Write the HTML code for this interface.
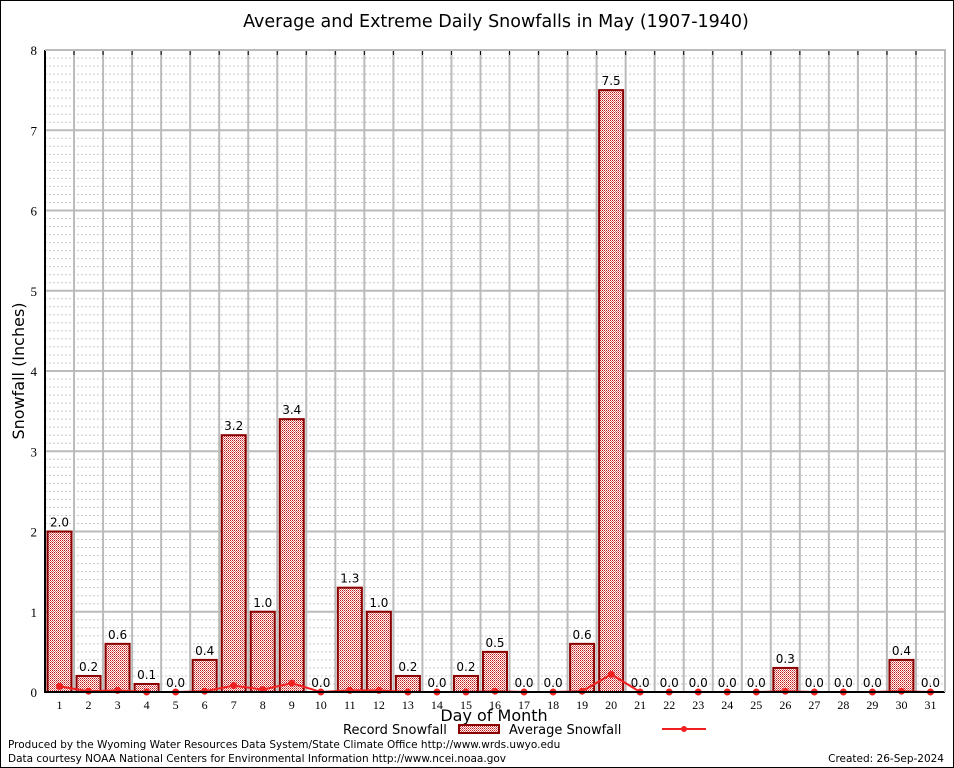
<!DOCTYPE html>
<html><head><meta charset="utf-8"><style>
body{margin:0;background:#fff}
svg{display:block;font-family:"DejaVu Sans","Liberation Sans",sans-serif}
</style></head><body>
<svg id="chart" width="954" height="768">
<defs><pattern id="hatch" width="2" height="2" patternUnits="userSpaceOnUse"><rect width="2" height="2" fill="#fff"/><rect width="1" height="1" fill="#c01818"/><rect x="1" y="1" width="1" height="1" fill="#e07070"/></pattern></defs>
<rect x="0.5" y="0.5" width="953" height="767" fill="#fff" stroke="#000"/>
<text x="496" y="27" font-size="17.5" text-anchor="middle">Average and Extreme Daily Snowfalls in May (1907-1940)</text>
<g id="grid"></g><g id="bars"></g><g id="line"></g><g id="axes"></g>
<text transform="translate(24,371) rotate(-90)" font-size="16" text-anchor="middle">Snowfall (Inches)</text>
<text x="494" y="721" font-size="16" text-anchor="middle">Day of Month</text>
<g><text x="343" y="734" font-size="13">Record Snowfall</text><rect x="459" y="725" width="40" height="8" fill="url(#hatch)" stroke="#8b0000" stroke-width="2"/></g>
<g><text x="509" y="734" font-size="13">Average Snowfall</text><line x1="662" y1="729" x2="706" y2="729" stroke="#f02020" stroke-width="2"/><circle cx="684" cy="729" r="3" fill="#f02020"/></g>
<text x="8" y="748" font-size="10.5">Produced by the Wyoming Water Resources Data System/State Climate Office http://www.wrds.uwyo.edu</text>
<text x="8" y="762" font-size="10.5">Data courtesy NOAA National Centers for Environmental Information http://www.ncei.noaa.gov</text>
<text x="944" y="762" font-size="10.5" text-anchor="end">Created: 26-Sep-2024</text>
</svg>
<script>
const days=[1,2,3,4,5,6,7,8,9,10,11,12,13,14,15,16,17,18,19,20,21,22,23,24,25,26,27,28,29,30,31];
const records=[2.0,0.2,0.6,0.1,0.0,0.4,3.2,1.0,3.4,0.0,1.3,1.0,0.2,0.0,0.2,0.5,0.0,0.0,0.6,7.5,0.0,0.0,0.0,0.0,0.0,0.3,0.0,0.0,0.0,0.4,0.0];
const averages=[0.07,0.01,0.02,0,0,0.01,0.08,0.03,0.11,0,0.02,0.02,0,0,0,0.01,0,0,0.01,0.22,0,0,0,0,0,0.01,0,0,0,0.01,0];
const yTicks=[0,1,2,3,4,5,6,7,8];
const L=45,R=945,T=50,B=692,yMax=8;
const slot=(R-L)/days.length;
const x=d=>L+(d-0.5)*slot;
const y=v=>B-v/yMax*(B-T);
const NS="http://www.w3.org/2000/svg";
function mk(p,t,a){const e=document.createElementNS(NS,t);for(const k in a)e.setAttribute(k,a[k]);document.getElementById(p).appendChild(e);return e;}
for(let k=1;k<yMax*10;k++){if(k%10===0)continue;const v=k/10;const l=mk('grid','line',{x1:L,x2:R,y1:y(v),y2:y(v),stroke:'#c8c8c8','stroke-dasharray':'2,2'});

}
yTicks.forEach(v=>{const l=mk('grid','line',{x1:L,x2:R,y1:y(v),y2:y(v),stroke:'#bbb','stroke-width':2});


const t=mk('axes','text',{x:37,y:y(v)+5,'font-size':13,'text-anchor':'end','font-family':'Liberation Serif'});t.textContent=v;

});
for(let i=1;i<days.length;i++){const l=mk('grid','line',{x1:L+i*slot,x2:L+i*slot,y1:T,y2:B,stroke:'#bbb','stroke-width':2});


const tk=mk('axes','line',{x1:L+i*slot,x2:L+i*slot,y1:T,y2:T+5,stroke:'#000'});

}
days.forEach((d,i)=>{const v=records[i];
const r=mk('bars','rect',{x:x(d)-12,y:y(v),width:24,height:B-y(v),fill:'url(#hatch)',stroke:'#8b0000','stroke-width':2});


const t=mk('bars','text',{x:x(d),y:y(v)-5,'font-size':12,'text-anchor':'middle'});t.textContent=v.toFixed(1);


const xl=mk('axes','text',{x:x(d),y:B+17,'font-size':12,'text-anchor':'middle','font-family':'Liberation Serif'});xl.textContent=d;

});
const pl=mk('line','polyline',{points:days.map((d,i)=>x(d)+','+y(averages[i])).join(' '),fill:'none',stroke:'#f02020','stroke-width':2});


days.forEach((d,i)=>{const c=mk('line','circle',{cx:x(d),cy:y(averages[i]),r:3.5,fill:'#f02020'});

});
const ax=mk('axes','path',{d:`M${L},${T}V${B}H${R}`,fill:'none',stroke:'#000','stroke-width':2});


const tb=mk('axes','path',{d:`M${L},${T}H${R}V${B}`,fill:'none',stroke:'#bbb','stroke-width':2});


</script>
</body></html>
